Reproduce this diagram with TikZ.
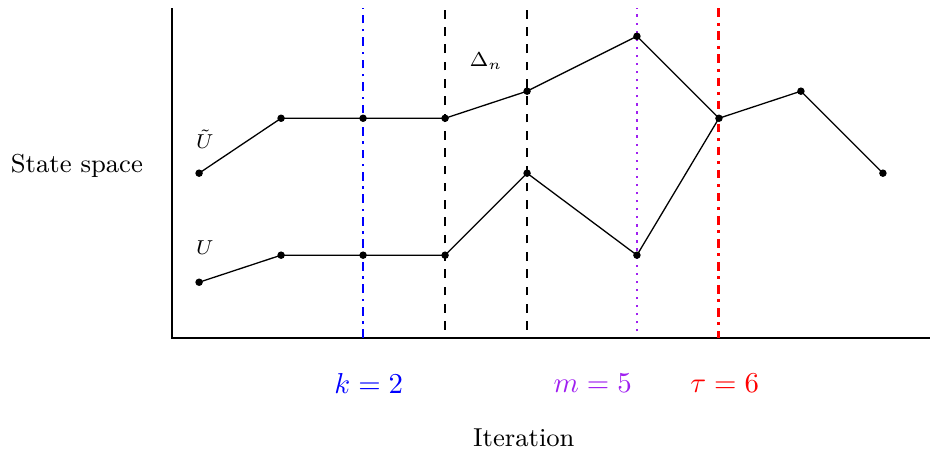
\documentclass[tikz,border=0pt]{standalone}
\definecolor{lilac}{RGB}{160,32,240}

\begin{document}
\begin{tikzpicture}[
    dot/.style={fill=black},
    path line/.style={black, line width=0.45pt},
    mark line/.style={line width=0.8pt}
]
    \useasboundingbox (-2.098,-1.366) rectangle (9.244,4.122);

    % axes
    \coordinate (O) at (0,0);
    \coordinate (xend) at (9.244,0);
    \coordinate (yend) at (0,4.02);
    \draw[line width=0.85pt] (yend) -- (O) -- (xend);

    % markers k, Delta_n, m, tau
    \coordinate (kb) at (2.33,0);   \coordinate (kt) at (2.33,4.02);
    \coordinate (d1b) at (3.33,0.1); \coordinate (d1t) at (3.33,4.02);
    \coordinate (d2b) at (4.33,0.1); \coordinate (d2t) at (4.33,4.02);
    \coordinate (mb) at (5.67,0.08); \coordinate (mt) at (5.67,4.02);
    \coordinate (tb) at (6.67,0);   \coordinate (tt) at (6.67,4.02);
    \draw[mark line, blue, dash dot] (kb) -- (kt);
    \draw[mark line, black, dashed] (d1b) -- (d1t);
    \draw[mark line, black, dashed] (d2b) -- (d2t);
    \draw[mark line, lilac, dotted] (mb) -- (mt);
    \draw[line width=1pt, red, dash dot] (tt) -- (tb);

    % U tilde
    \coordinate (v1) at (0.33,2.01);
    \coordinate (v2) at (1.33,2.68);
    \coordinate (v3) at (2.33,2.68);
    \coordinate (v4) at (3.33,2.68);
    \coordinate (v5) at (4.33,3.01);
    \coordinate (v6) at (5.67,3.68);
    \coordinate (v7) at (6.67,2.68);
    \coordinate (v8) at (7.67,3.01);
    \coordinate (v9) at (8.67,2.01);
    \draw[path line] (v1) -- (v2) -- (v3) -- (v4) -- (v5) -- (v6) -- (v7) -- (v8) -- (v9);

    % U
    \coordinate (u1) at (0.33,0.68);
    \coordinate (u2) at (1.33,1.01);
    \coordinate (u3) at (2.33,1.01);
    \coordinate (u4) at (3.33,1.01);
    \coordinate (u5) at (4.33,2.01);
    \coordinate (u6) at (5.67,1.01);
    \draw[path line] (u1) -- (u2) -- (u3) -- (u4) -- (u5) -- (u6) -- (v7);

    \foreach \p in {v1,v2,v3,v4,v5,v6,v7,v8,v9,u1,u2,u3,u4,u5,u6}
        \fill[dot] (\p) circle (1.3pt);

    % labels
    \node[font=\scriptsize, inner sep=1pt] (lUt) at (0.40,2.42) {$\tilde{U}$};
    \node[font=\scriptsize, inner sep=1pt] (lU) at (0.40,1.10) {$U$};
    \node[font=\scriptsize] (lD) at (3.83,3.38) {$\Delta_n$};
    \node[blue] (lk) at (2.40,-0.55) {$k=2$};
    \node[lilac] (lm) at (5.13,-0.55) {$m=5$};
    \node[red] (lt) at (6.74,-0.55) {$\tau=6$};
    \node[font=\small] (lx) at (4.29,-1.22) {Iteration};
    \node[font=\small] (ly) at (-1.16,2.10) {State space};
\end{tikzpicture}
\end{document}
